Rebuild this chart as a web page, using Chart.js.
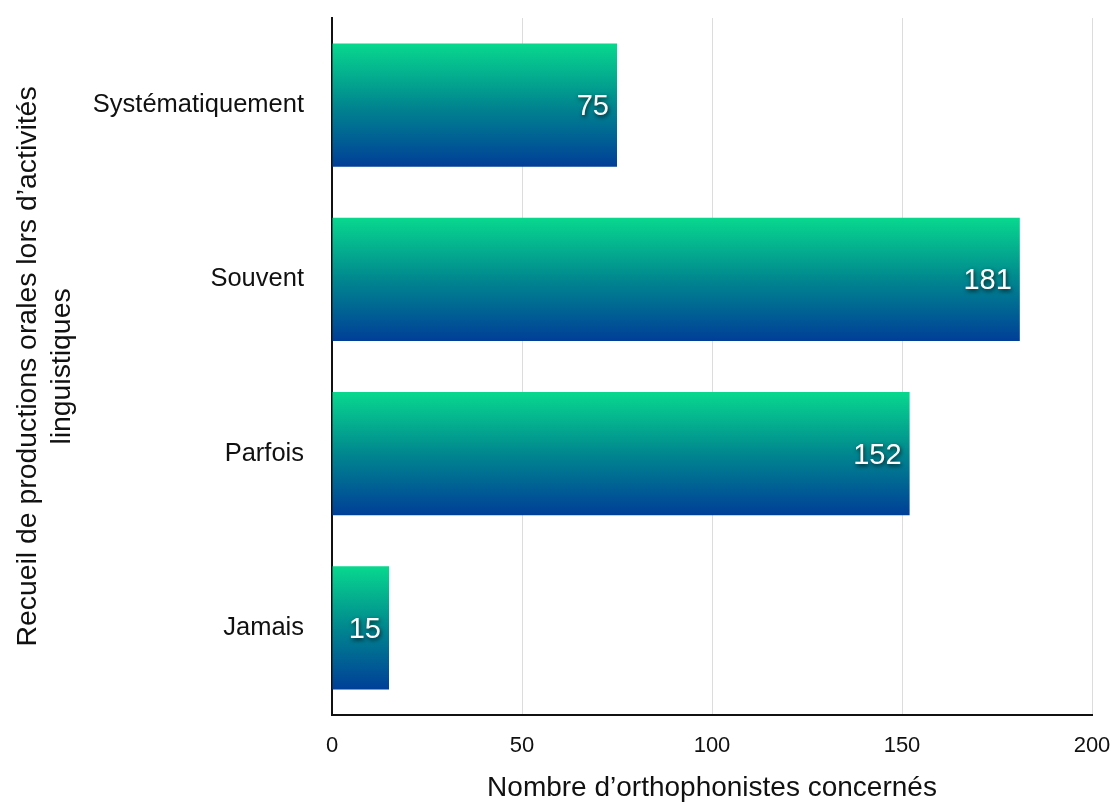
<!DOCTYPE html>
<html lang="fr">
<head>
<meta charset="utf-8">
<title>Recueil de productions orales</title>
<script src="https://cdn.jsdelivr.net/npm/chart.js@4"></script>
<style>
  html, body { margin: 0; padding: 0; background: #fff; }
  #wrap { width: 1118px; height: 805px; position: relative; }
</style>
</head>
<body>
<div id="wrap"><canvas id="chart"></canvas></div>
<script>
"use strict";

// --- Data ----------------------------------------------------------------- //
const categories = ["Systématiquement", "Souvent", "Parfois", "Jamais"];
const counts = [75, 181, 152, 15];
const xTicks = [0, 50, 100, 150, 200];
const yTitle = ["Recueil de productions orales lors d\u2019activités", "linguistiques"];
const xTitle = "Nombre d\u2019orthophonistes concernés";

const FONT = "'Liberation Sans', Arial, Helvetica, sans-serif";
const BAR_PCT = 0.706;
const STOPS = ["#08d88e", "#00878f", "#003f98"];

// vertical gradient per bar, computed from the category scale
function barGradient(ctx) {
  const chart = ctx.chart;
  const area = chart.chartArea;
  const y = chart.scales.y;
  if (!area || !y) return STOPS[1];
  const c = y.getPixelForValue(ctx.dataIndex);
  const half = (area.bottom - area.top) / categories.length * BAR_PCT / 2;
  const g = chart.ctx.createLinearGradient(0, c - half, 0, c + half);
  g.addColorStop(0, STOPS[0]);
  g.addColorStop(0.5, STOPS[1]);
  g.addColorStop(1, STOPS[2]);
  return g;
}

// value labels: white, right aligned inside the bar end, soft dark shadow
const valueLabels = {
  id: "valueLabels",
  afterDatasetsDraw(chart) {
    const ctx = chart.ctx;
    const meta = chart.getDatasetMeta(0);
    ctx.save();
    ctx.font = "29px " + FONT;
    ctx.textAlign = "right";
    ctx.textBaseline = "middle";
    ctx.fillStyle = "#ffffff";
    ctx.shadowColor = "rgba(0,0,0,0.75)";
    ctx.shadowBlur = 4;
    ctx.shadowOffsetX = 1;
    ctx.shadowOffsetY = 2;
    meta.data.forEach((bar, i) => {
      ctx.fillText(String(counts[i]), bar.x - 8, bar.y + 2);
    });
    ctx.restore();
  },
};

new Chart(document.getElementById("chart"), {
  type: "bar",
  data: {
    labels: categories,
    datasets: [{
      data: counts,
      backgroundColor: barGradient,
      borderWidth: 0,
      categoryPercentage: 1,
      barPercentage: BAR_PCT,
    }],
  },
  options: {
    indexAxis: "y",
    responsive: true,
    maintainAspectRatio: false,
    animation: false,
    layout: { padding: { top: 18, right: 26, bottom: 0, left: 0 } },
    plugins: { legend: { display: false }, tooltip: { enabled: false } },
    scales: {
      x: {
        min: 0, max: 200,
        afterBuildTicks: (s) => { s.ticks = xTicks.map((v) => ({ value: v })); },
        afterFit: (s) => { s.height = 90; s.paddingLeft = 0; s.paddingRight = 0; },
        grid: {
          drawTicks: false,
          lineWidth: 1,
          color: (c) => (c.tick && c.tick.value === 0 ? "rgba(0,0,0,0)" : "#dcdcdc"),
        },
        border: { display: true, color: "#111", width: 2 },
        ticks: { color: "#111", padding: 18, font: { family: FONT, size: 22 } },
        title: {
          display: true, text: xTitle, color: "#111",
          padding: { top: 0, bottom: 0 },
          font: { family: FONT, size: 28 },
        },
      },
      y: {
        afterFit: (s) => { s.width = 332; s.paddingTop = 0; s.paddingBottom = 0; },
        grid: { display: true, drawTicks: false, color: "rgba(0,0,0,0)" },
        border: { display: true, color: "#111", width: 2 },
        ticks: { color: "#111", padding: 28, font: { family: FONT, size: 25.5 } },
        title: {
          display: true, text: yTitle, color: "#111",
          padding: { top: 11, bottom: 0 },
          font: { family: FONT, size: 28.4 },
        },
      },
    },
  },
  plugins: [valueLabels],
});
</script>
</body>
</html>
